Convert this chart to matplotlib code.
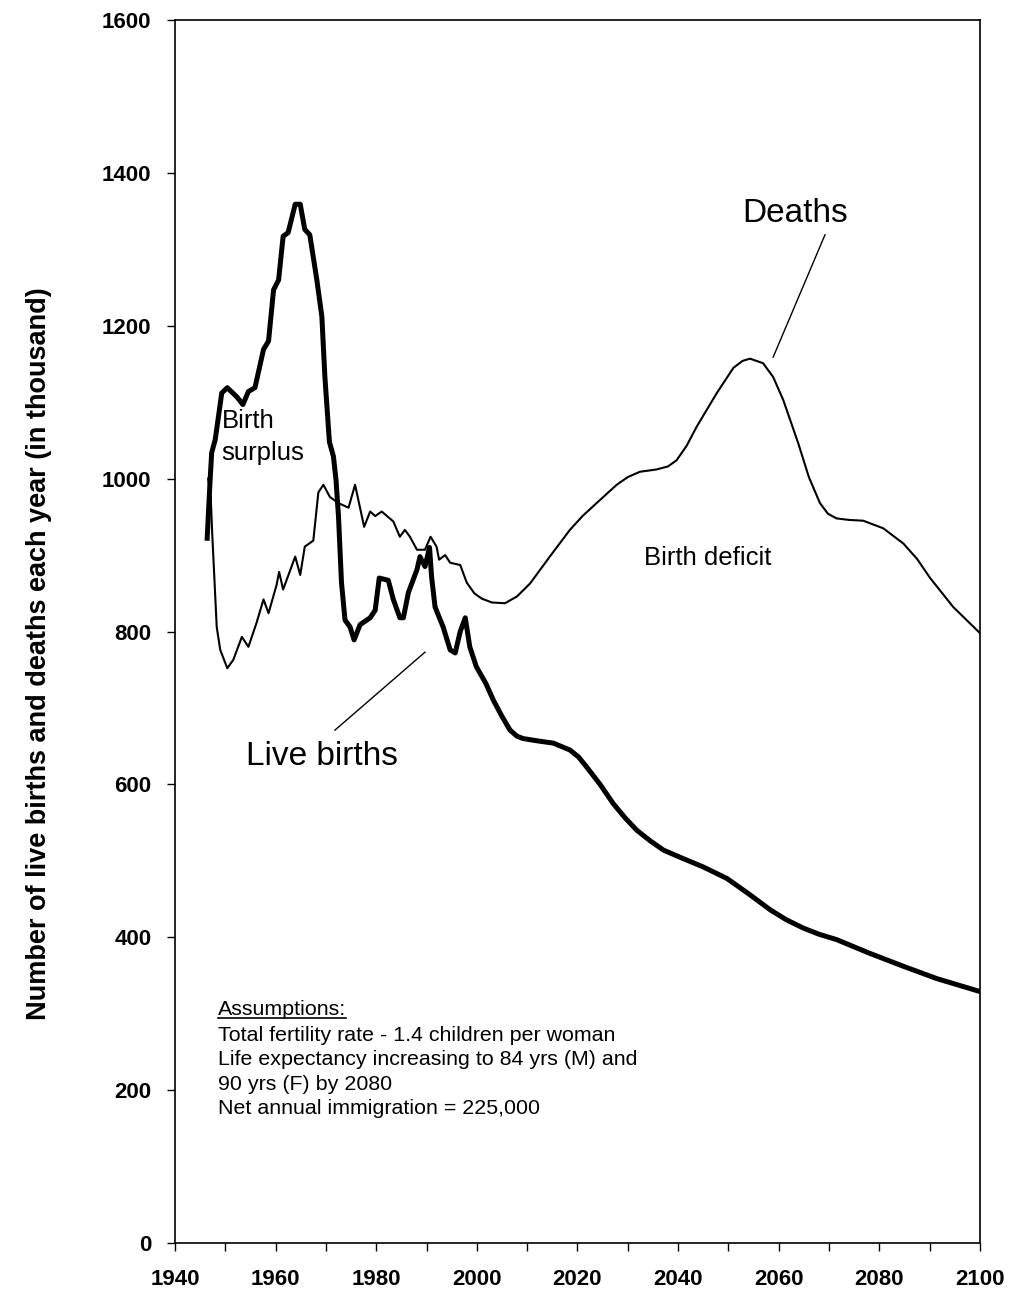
import matplotlib
matplotlib.use('Agg')
import matplotlib.pyplot as plt
from matplotlib.ticker import MultipleLocator

plt.rcParams['font.family'] = ['Liberation Sans', 'DejaVu Sans']

# live births (thousand)
birth_years = [1946.4, 1947.0, 1947.3, 1948.0, 1949.3, 1950.4, 1952.3, 1953.5, 1954.6, 1955.9,
               1957.6, 1958.6, 1959.6, 1960.6, 1961.5, 1962.5, 1963.9, 1964.9, 1965.8, 1966.8,
               1968.2, 1969.2, 1969.8, 1970.7, 1971.5, 1972.0, 1972.5, 1973.1, 1973.8, 1974.8,
               1975.6, 1976.8, 1978.8, 1979.8, 1980.6, 1982.4, 1983.4, 1984.7, 1985.4, 1986.4,
               1988.1, 1988.7, 1989.7, 1990.6, 1991.0, 1991.7, 1993.3, 1994.7, 1995.7, 1996.7,
               1997.7, 1998.6, 1999.9, 2001.8, 2003.3, 2005.0, 2006.6, 2008.0, 2009.2, 2012.0,
               2015.2, 2018.5, 2020.2, 2021.8, 2024.5, 2027.1, 2029.5, 2031.8, 2034.5, 2037.1,
               2041.0, 2045.0, 2049.7, 2054.0, 2058.3, 2061.5, 2064.9, 2068.0, 2071.5, 2078.1,
               2084.8, 2091.4, 2100.0]
births = [922, 1000, 1034, 1051, 1112, 1119, 1107, 1097, 1114, 1119,
          1169, 1180, 1247, 1260, 1317, 1322, 1359, 1359, 1326, 1319,
          1260, 1212, 1133, 1048, 1029, 999, 951, 864, 815, 806,
          789, 809, 818, 828, 870, 867, 842, 818, 818, 851,
          881, 898, 885, 910, 872, 832, 806, 776, 772, 800,
          818, 780, 754, 732, 710, 689, 671, 663, 660, 657,
          654, 645, 636, 623, 600, 575, 556, 540, 526, 514,
          503, 492, 477, 457, 436, 423, 412, 404, 397, 379,
          362, 346, 329]

# deaths (thousand)
death_years = [1946.6, 1947.1, 1947.4, 1948.3, 1949.0, 1950.4, 1951.6, 1953.3, 1954.6, 1956.2,
               1957.6, 1958.6, 1960.2, 1960.7, 1961.5, 1963.9, 1964.9, 1965.8, 1967.5, 1968.5,
               1969.5, 1970.8, 1972.5, 1974.5, 1975.8, 1977.6, 1978.8, 1979.8, 1981.1, 1983.4,
               1984.7, 1985.7, 1986.7, 1988.1, 1989.7, 1990.8, 1992.0, 1992.5, 1993.7, 1994.7,
               1996.7, 1998.0, 1999.5, 2001.0, 2003.0, 2005.6, 2008.0, 2010.6, 2014.5, 2018.5,
               2021.0, 2023.8, 2027.8, 2030.0, 2032.4, 2035.7, 2038.0, 2039.7, 2041.7, 2043.7,
               2047.7, 2051.0, 2052.8, 2054.3, 2056.9, 2058.9, 2060.9, 2063.9, 2066.0, 2068.2,
               2069.8, 2071.5, 2074.0, 2076.8, 2080.8, 2084.8, 2087.5, 2090.1, 2094.7, 2100.0]
deaths = [1000, 977, 929, 806, 776, 752, 763, 793, 780, 811,
          842, 824, 861, 878, 855, 898, 874, 911, 919, 982,
          992, 976, 968, 962, 992, 937, 957, 951, 957, 944,
          924, 933, 924, 907, 907, 924, 911, 894, 900, 890,
          887, 864, 850, 843, 838, 837, 846, 863, 898, 933,
          951, 968, 992, 1002, 1009, 1012, 1016, 1024, 1043, 1068,
          1112, 1145, 1154, 1157, 1151, 1133, 1103, 1046, 1002, 968,
          954, 948, 946, 945, 935, 915, 895, 870, 832, 798]

x_ticks = [1940, 1960, 1980, 2000, 2020, 2040, 2060, 2080, 2100]
y_ticks = [0, 200, 400, 600, 800, 1000, 1200, 1400, 1600]

assumptions = ['Total fertility rate - 1.4 children per woman',
               'Life expectancy increasing to 84 yrs (M) and',
               '90 yrs (F) by 2080',
               'Net annual immigration = 225,000']

fig = plt.figure(figsize=(10.09, 12.92), dpi=100)
ax = fig.add_axes([0.1734, 0.0379, 0.7978, 0.9466])

ax.plot(death_years, deaths, color='black', lw=1.5, solid_joinstyle='round')
ax.plot(birth_years, births, color='black', lw=3.6, solid_joinstyle='round')

ax.set_xlim(1940, 2100)
ax.set_ylim(0, 1600)
ax.set_xticks(x_ticks)
ax.xaxis.set_minor_locator(MultipleLocator(10))
ax.set_yticks(y_ticks)
ax.tick_params(axis='both', which='both', direction='out', length=6, width=1)
ax.tick_params(axis='x', which='major', pad=13, labelsize=16)
ax.tick_params(axis='y', pad=11, labelsize=16)
for lab in ax.get_xticklabels() + ax.get_yticklabels():
    lab.set_fontweight('bold')
for sp in ax.spines.values():
    sp.set_linewidth(1.2)

ax.set_ylabel('Number of live births and deaths each year (in thousand)',
              fontsize=19.5, fontweight='bold')
ax.yaxis.set_label_coords(-0.153, 0.482)

# annotations
ax.text(2063.2, 1347, 'Deaths', fontsize=24, ha='center', va='center')
ax.plot([2069.2, 2058.9], [1319, 1159], color='black', lw=1)
ax.text(1969.2, 636, 'Live births', fontsize=24, ha='center', va='center')
ax.plot([1971.8, 1989.7], [671, 773], color='black', lw=1)
ax.text(1949.3, 1075, 'Birth', fontsize=18.5, ha='left', va='center')
ax.text(1949.3, 1033, 'surplus', fontsize=18.5, ha='left', va='center')
ax.text(2045.9, 896, 'Birth deficit', fontsize=18.5, ha='center', va='center')

head = ax.text(1948.55, 305, 'Assumptions:', fontsize=15.4, ha='left', va='center')
for i, line in enumerate(assumptions):
    ax.text(1948.55, 272 - i * 32, line, fontsize=15.4, ha='left', va='center')

# underline the heading
fig.canvas.draw()
bb = head.get_window_extent().transformed(ax.transData.inverted())
ax.plot([bb.x0, bb.x1], [bb.y0 + 2, bb.y0 + 2], color='black', lw=1.2)

fig.savefig('out.png', dpi=100)
